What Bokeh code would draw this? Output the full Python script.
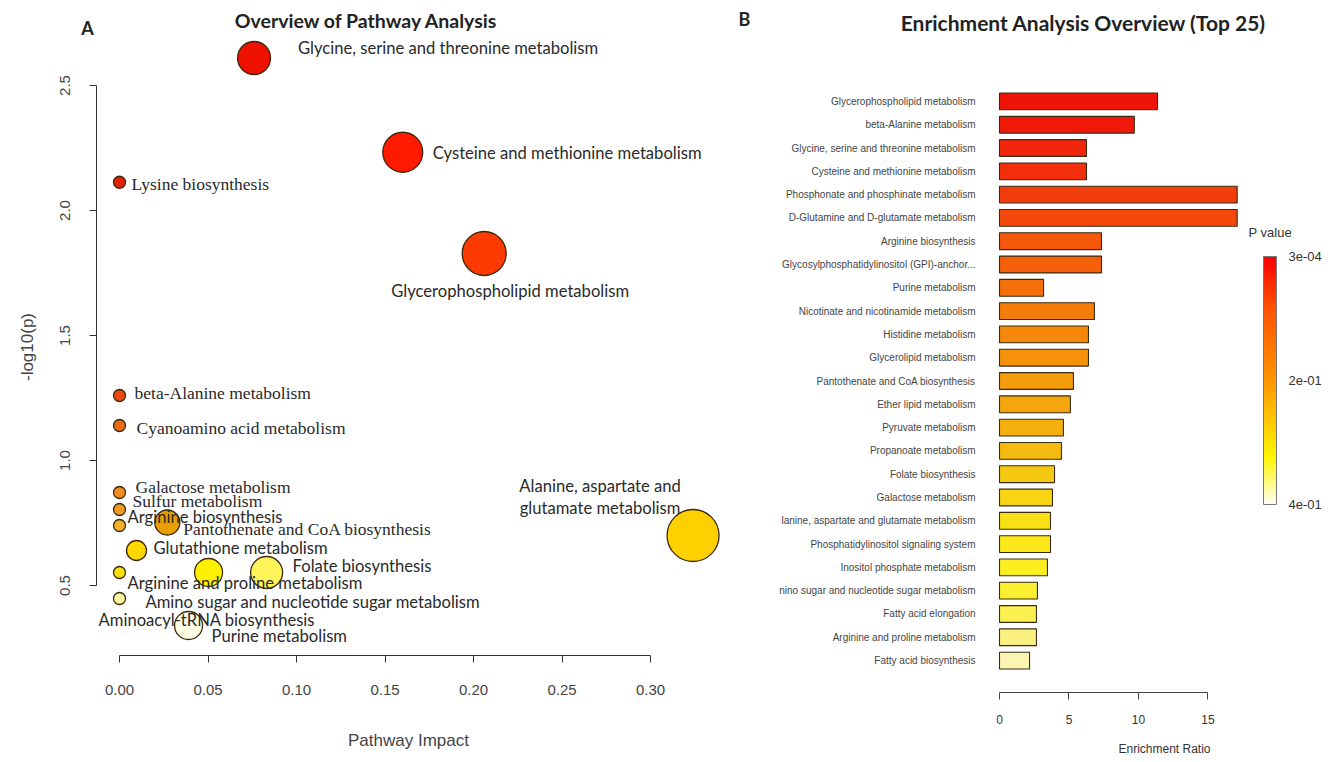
from bokeh.plotting import figure
from bokeh.layouts import row, column
from bokeh.models import (Label, FixedTicker, NumeralTickFormatter, Range1d, FactorRange,
                          ColumnDataSource, ColorBar, LinearColorMapper)
from bokeh.embed import file_html
from bokeh.resources import INLINE

# ---------------- Panel A: pathway analysis ----------------
pathways = [
    "Glycine, serine and threonine metabolism",
    "Cysteine and methionine metabolism",
    "Lysine  biosynthesis",
    "Glycerophospholipid metabolism",
    "beta-Alanine metabolism",
    "Cyanoamino  acid metabolism",
    "Galactose metabolism",
    "Sulfur  metabolism",
    "Arginine biosynthesis",
    "Pantothenate  and CoA biosynthesis",
    "Glutathione metabolism",
    "Aminoacyl-tRNA biosynthesis",
    "Folate biosynthesis",
    "Arginine and proline metabolism",
    "Amino sugar and nucleotide sugar metabolism",
    "Purine metabolism",
    "Alanine, aspartate and\nglutamate metabolism",
]
impact = [0.076, 0.160, 0.0, 0.206, 0.0, 0.0, 0.0, 0.0, 0.0, 0.027, 0.0096,
          0.0503, 0.0831, 0.0, 0.0, 0.039, 0.324]
neglogp = [2.61, 2.233, 2.113, 1.828, 1.26, 1.14, 0.872, 0.804, 0.74, 0.752, 0.64,
           0.552, 0.552, 0.552, 0.448, 0.34, 0.70]
point_colors = ["#EE1100", "#FF1A00", "#E52000", "#FF3A00", "#EE4A10", "#EE6A10",
                "#F08C20", "#F39A20", "#F5B028", "#E8A000", "#FFD800", "#FFF000",
                "#FFF45A", "#F8E010", "#FCF8A0", "#FFFCE6", "#FFD000"]
circle_px = [33, 40, 12, 44, 12, 12, 12, 12, 12, 25, 20, 28, 32, 12, 12, 28, 52]

x_ticks_a = [0.0, 0.05, 0.10, 0.15, 0.20, 0.25, 0.30]
y_ticks_a = [0.5, 1.0, 1.5, 2.0, 2.5]

# label placement (pixels relative to the point), style only
label_dx = [44, 30, 12, 26, 15, 17, 16, 13, 8, 16, 17, -110, 26, 8, 26, 23, -93]
label_dy = [10, -1, -2, -37, 3, -2, 6, 9, 9, -6, 3, -47, 7, -10, -3, -10, 50]
label_align = ["left"] * 3 + ["center"] + ["left"] * 12 + ["center"]
label_serif = [False, False, True, False, True, True, True, True, False, True, False,
               False, False, False, False, False, False]

# ---------------- Panel B: enrichment analysis ----------------
enrich_names = [
    "Glycerophospholipid metabolism",
    "beta-Alanine metabolism",
    "Glycine, serine and threonine metabolism",
    "Cysteine and methionine metabolism",
    "Phosphonate and phosphinate metabolism",
    "D-Glutamine and D-glutamate metabolism",
    "Arginine biosynthesis",
    "Glycosylphosphatidylinositol (GPI)-anchor...",
    "Purine metabolism",
    "Nicotinate and nicotinamide metabolism",
    "Histidine metabolism",
    "Glycerolipid metabolism",
    "Pantothenate and CoA biosynthesis",
    "Ether lipid metabolism",
    "Pyruvate metabolism",
    "Propanoate metabolism",
    "Folate biosynthesis",
    "Galactose metabolism",
    "lanine, aspartate and glutamate metabolism",
    "Phosphatidylinositol signaling system",
    "Inositol phosphate metabolism",
    "nino sugar and nucleotide sugar metabolism",
    "Fatty acid elongation",
    "Arginine and proline metabolism",
    "Fatty acid biosynthesis",
]
enrich_ratio = [11.37, 9.7, 6.26, 6.26, 17.1, 17.1, 7.34, 7.34, 3.17, 6.83, 6.4, 6.4,
                5.32, 5.1, 4.6, 4.46, 3.96, 3.81, 3.67, 3.67, 3.45, 2.73, 2.66, 2.66, 2.16]
enrich_colors = ["#F01408", "#F2180A", "#F2260C", "#F22E0C", "#F23E0C", "#F5480C",
                 "#F5580A", "#F5600A", "#F5700A", "#F57E0A", "#F5880A", "#F5920A",
                 "#F59C0A", "#F5A60C", "#F5B00E", "#F5BA10", "#F5C812", "#F8D414",
                 "#F8E014", "#FAE818", "#FAEE20", "#FAF030", "#FAF050", "#FAF080",
                 "#FAF5B0"]
x_ticks_b = [0, 5, 10, 15]
pvalue_labels = {0: "4e-01", 0.5: "2e-01", 1: "3e-04"}

# header texts
header_texts = ["A", "Overview of Pathway Analysis", "B", "Enrichment Analysis Overview (Top 25)"]

SANS = "Lato"
ARIAL = "Liberation Sans"
SERIF = "Liberation Serif"
TXT = "#333333"

HH = 38               # header height
W1, W2, H1, H2 = 728, 604, 716, 720

# ---------- header (titles) ----------
hdr = figure(width=W1 + W2, height=HH, output_backend="svg", toolbar_location=None,
             x_range=Range1d(0, W1 + W2), y_range=Range1d(HH, 0),
             x_axis_type=None, y_axis_type=None,
             min_border_left=0, min_border_right=0, min_border_top=0, min_border_bottom=0)
hdr.outline_line_color = None
hdr.grid.visible = False
hdr_pos = [(87, 27), (366, 20), (744, 18), (1083, 22)]
hdr_size = ["18px", "19.5px", "18px", "21px"]
for t, (hx, hy), fs in zip(header_texts, hdr_pos, hdr_size):
    hdr.add_layout(Label(x=hx, y=hy, text=t, text_font=SANS, text_font_size=fs,
                         text_font_style="bold", text_color="#222222",
                         text_align="center", text_baseline="middle"))

# ---------- figure A ----------
p1 = figure(width=W1, height=H1, output_backend="svg", toolbar_location=None,
            x_range=Range1d(-0.013, 0.3395), y_range=Range1d(0.22, 2.688),
            min_border_left=96, min_border_right=8, min_border_top=0, min_border_bottom=99)
p1.outline_line_color = None
p1.grid.visible = False

src1 = ColumnDataSource(dict(x=impact, y=neglogp, size=circle_px, color=point_colors))
p1.scatter("x", "y", size="size", fill_color="color", line_color="#3a2a10",
           line_width=1.3, source=src1)

xa = p1.xaxis[0]
xa.bounds = (x_ticks_a[0], x_ticks_a[-1])
xa.ticker = FixedTicker(ticks=x_ticks_a)
xa.formatter = NumeralTickFormatter(format="0.00")
xa.axis_label = "Pathway Impact"
ya = p1.yaxis[0]
ya.bounds = (y_ticks_a[0], y_ticks_a[-1])
ya.ticker = FixedTicker(ticks=y_ticks_a)
ya.formatter = NumeralTickFormatter(format="0.0")
ya.axis_label = "-log10(p)"
ya.major_label_orientation = "vertical"
for ax in (xa, ya):
    ax.axis_line_color = "#333333"
    ax.major_tick_line_color = "#333333"
    ax.major_tick_out = 7
    ax.major_tick_in = 0
    ax.minor_tick_line_color = None
    ax.major_label_text_font = ARIAL
    ax.major_label_text_font_size = "15px"
    ax.major_label_text_color = "#444444"
    ax.axis_label_text_font = ARIAL
    ax.axis_label_text_font_size = "17px"
    ax.axis_label_text_font_style = "normal"
    ax.axis_label_text_color = "#444444"
xa.major_label_standoff = 22
xa.axis_label_standoff = 33
ya.major_label_standoff = 20
ya.axis_label_standoff = 20

for i, name in enumerate(pathways):
    for k, line in enumerate(name.split("\n")):
        p1.add_layout(Label(x=impact[i], y=neglogp[i], x_offset=label_dx[i],
                            y_offset=label_dy[i] - 22 * k, text=line,
                            text_font=SERIF if label_serif[i] else SANS,
                            text_font_size="17.5px" if label_serif[i] else "16.6px",
                            text_color="#2a2a2a",
                            text_baseline="middle", text_align=label_align[i]))

# ---------- figure B ----------
p2 = figure(width=W2, height=H2, output_backend="svg", toolbar_location=None,
            y_range=FactorRange(factors=enrich_names[::-1], range_padding=0.87,
                                range_padding_units="absolute"),
            x_range=Range1d(-0.216, 23.96),
            min_border_left=268, min_border_right=0, min_border_top=31, min_border_bottom=65)
p2.outline_line_color = None
p2.grid.visible = False

src2 = ColumnDataSource(dict(name=enrich_names, ratio=enrich_ratio, color=enrich_colors))
p2.hbar(y="name", left=0, right="ratio", height=0.72, fill_color="color",
        line_color="#3a2a10", line_width=1.1, source=src2)

xb = p2.xaxis[0]
xb.bounds = (x_ticks_b[0], x_ticks_b[-1])
xb.ticker = FixedTicker(ticks=x_ticks_b)
xb.axis_label = "Enrichment Ratio"
xb.axis_line_color = "#444444"
xb.major_tick_line_color = "#444444"
xb.major_tick_out = 7
xb.major_tick_in = 0
xb.minor_tick_line_color = None
xb.major_label_text_font = ARIAL
xb.major_label_text_font_size = "12px"
xb.major_label_text_color = TXT
xb.major_label_standoff = 15
xb.axis_label_text_font = ARIAL
xb.axis_label_text_font_size = "12px"
xb.axis_label_text_font_style = "normal"
xb.axis_label_text_color = TXT
xb.axis_label_standoff = 15

yb = p2.yaxis[0]
yb.axis_line_color = None
yb.major_tick_line_color = None
yb.minor_tick_line_color = None
yb.major_label_text_font = ARIAL
yb.major_label_text_font_size = "10px"
yb.major_label_text_color = "#444444"
yb.major_label_standoff = 15

# colour key
stops = [(0.0, (255, 255, 240)), (0.19, (255, 245, 0)), (0.5, (255, 150, 0)),
         (0.8, (255, 80, 0)), (1.0, (255, 0, 0))]
palette = []
for j in range(256):
    t = j / 255
    for (a, ca), (b, cb) in zip(stops[:-1], stops[1:]):
        if a <= t <= b:
            f = (t - a) / (b - a)
            c = tuple(int(round(ca[m] + (cb[m] - ca[m]) * f)) for m in range(3))
            palette.append("#%02x%02x%02x" % c)
            break
mapper = LinearColorMapper(palette=palette, low=0, high=1)
cbar = ColorBar(color_mapper=mapper, ticker=FixedTicker(ticks=[0, 0.5, 1]),
                major_label_overrides=pvalue_labels, width=13, height=248,
                location=(267, 188), padding=0, bar_line_color="#777777",
                major_tick_line_color=None, label_standoff=12,
                major_label_text_font=ARIAL, major_label_text_font_size="13px",
                major_label_text_color=TXT, background_fill_alpha=0,
                border_line_color=None)
p2.add_layout(cbar)
p2.add_layout(Label(x=252, y=460, x_units="screen", y_units="screen", text="P value",
                    text_font=ARIAL, text_font_size="13px", text_color=TXT,
                    text_align="left", text_baseline="middle"))

layout = column(hdr, row(column(p1), column(p2)))
open("out.html", "w").write(file_html(layout, INLINE))
